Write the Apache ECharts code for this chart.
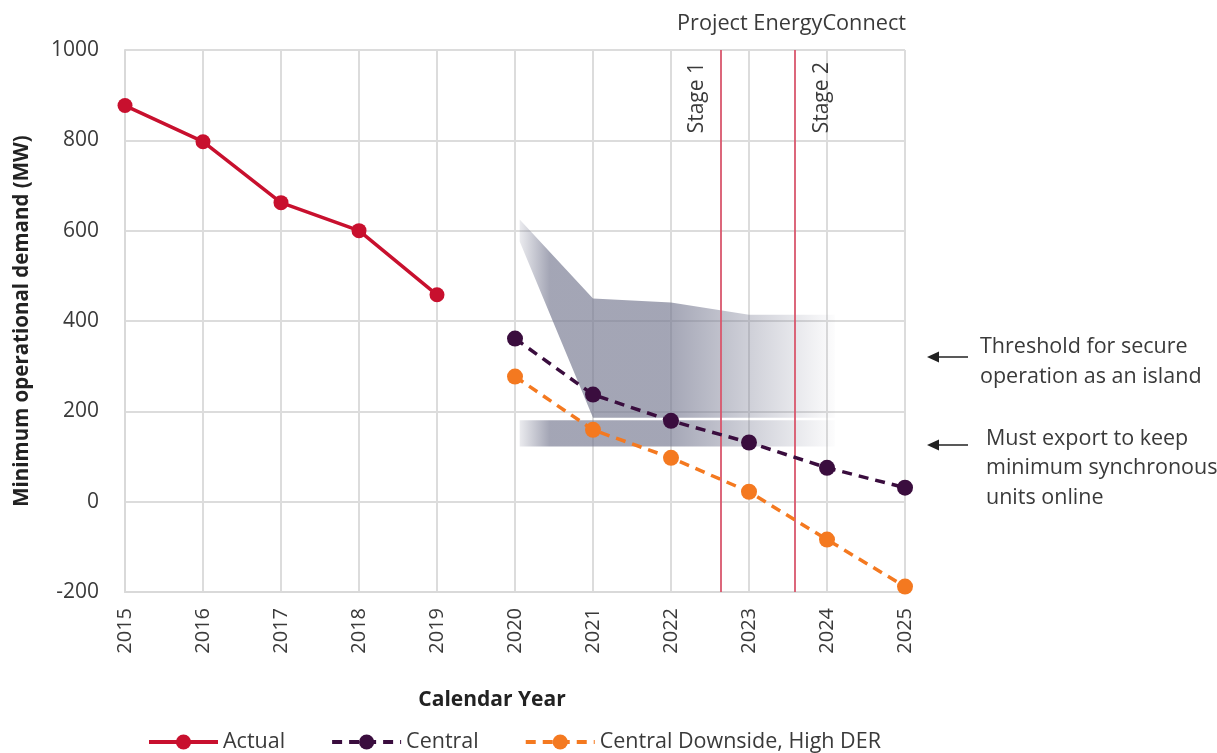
<!DOCTYPE html>
<html><head><meta charset="utf-8">
<script src="https://cdn.jsdelivr.net/npm/echarts@6/dist/echarts.min.js"></script>
<style>html,body{margin:0;padding:0;background:#fff}#c{width:1217px;height:753px}</style>
</head><body><div id="c"></div>
<script>
const years = [2015,2016,2017,2018,2019,2020,2021,2022,2023,2024,2025];
const actual   = [877,797,662,600,458,null,null,null,null,null,null];
const central  = [null,null,null,null,null,361,237,179,131,75,31];
const downside = [null,null,null,null,null,277,159,97,22,-84,-188];
const yTicks = [-200,0,200,400,600,800,1000];
// shaded "secure island operation" region
const islandX = [2020.06,2021,2022,2023,2024.1,2024.1,2021,2020.06];
const islandY = [625,450,441,414,414,186,186,576];
// "must export" band
const bandX = [2020.06,2024.1];
const bandY = [122,180];
const stageX = [2022.64,2023.59];
const stageLabels = ['Stage 1','Stage 2'];
const FONT = 'Open Sans';
const TXT = '#3a3a3a';

function pairs(vals){ return years.map((y,i)=>[y,vals[i]]).filter(p=>p[1]!==null); }
function grad(){
  return new echarts.graphic.LinearGradient(0,0,1,0,[
    {offset:0,color:'rgba(116,119,143,0.15)'},
    {offset:0.095,color:'rgba(116,119,143,0.66)'},
    {offset:0.47,color:'rgba(116,119,143,0.66)'},
    {offset:1,color:'rgba(116,119,143,0.02)'}]);
}
const stagePos = ['insideEndTop','insideEndBottom'];
const stageDist = [[12,13.5],[12,16.5]];
const chart = echarts.init(document.getElementById('c'));
const option = {
  animation:false,
  backgroundColor:'#fff',
  grid:{left:125,right:312,top:50,bottom:161},
  xAxis:{type:'value',min:2015,max:2025,interval:1,
    axisLine:{show:true,onZero:false,lineStyle:{color:'#d9d9d9',width:2}},
    axisTick:{show:false},
    splitLine:{show:true,lineStyle:{color:'#dcdcdc',width:2}},
    axisLabel:{rotate:90,margin:16,fontSize:20,color:TXT,fontFamily:FONT,formatter:v=>String(v)}},
  yAxis:{type:'value',min:yTicks[0],max:yTicks[yTicks.length-1],interval:200,
    name:'Minimum operational demand (MW)',nameLocation:'middle',nameGap:92,
    nameTextStyle:{fontSize:20.5,fontWeight:'bold',color:'#222',fontFamily:FONT},
    axisLine:{show:true,lineStyle:{color:'#d9d9d9',width:2}},
    axisTick:{show:false},
    splitLine:{show:true,lineStyle:{color:'#dcdcdc',width:2}},
    axisLabel:{margin:26,fontSize:21,color:TXT,fontFamily:FONT,formatter:v=>String(v)}},
  legend:{left:142,top:726,itemWidth:69,itemHeight:19,itemGap:45,
    lineStyle:{width:4},
    textStyle:{fontSize:21.5,color:TXT,fontFamily:FONT},
    data:['Actual','Central','Central Downside, High DER']},
  series:[
    {type:'custom',name:'island',silent:true,z:1,data:[[2020,0]],
     renderItem:(p,api)=>({type:'polygon',shape:{points:islandX.map((x,i)=>api.coord([x,islandY[i]]))},style:{fill:grad()}})},
    {type:'custom',name:'band',silent:true,z:1,data:[[2020,0]],
     renderItem:(p,api)=>({type:'polygon',shape:{points:[
       api.coord([bandX[0],bandY[1]]),api.coord([bandX[1],bandY[1]]),
       api.coord([bandX[1],bandY[0]]),api.coord([bandX[0],bandY[0]])]},style:{fill:grad()}})},
    {type:'line',name:'Actual',data:pairs(actual),z:5,symbol:'circle',symbolSize:15,
     lineStyle:{color:'#c8102e',width:3.5},itemStyle:{color:'#c8102e'},
     markLine:{silent:true,symbol:'none',lineStyle:{color:'#d9566c',width:1.8,type:'solid'},
       data:stageX.map((x,i)=>({xAxis:x,label:{show:true,formatter:stageLabels[i],position:stagePos[i],
         distance:stageDist[i],fontSize:21,fontFamily:FONT,color:TXT}}))}},
    {type:'line',name:'Central',data:pairs(central),z:5,symbol:'circle',symbolSize:16,
     lineStyle:{color:'#3a0d3e',width:3.5,type:[10,7]},itemStyle:{color:'#3a0d3e'}},
    {type:'line',name:'Central Downside, High DER',data:pairs(downside),z:5,symbol:'circle',symbolSize:16,
     lineStyle:{color:'#f47920',width:3.5,type:[10,7]},itemStyle:{color:'#f47920'}}
  ],
  graphic:[
    {type:'text',x:906,y:24,style:{text:'Project EnergyConnect',font:'21.7px "Open Sans"',fill:TXT,align:'right',verticalAlign:'middle'}},
    {type:'text',x:492,y:700,style:{text:'Calendar Year',font:'bold 21px "Open Sans"',fill:'#222',align:'center',verticalAlign:'middle'}},
    {type:'line',shape:{x1:968,y1:357,x2:936,y2:357},style:{stroke:'#222',lineWidth:1.5}},
    {type:'polygon',shape:{points:[[927,357],[939,351.5],[939,362.5]]},style:{fill:'#222'}},
    {type:'line',shape:{x1:968,y1:445,x2:936,y2:445},style:{stroke:'#222',lineWidth:1.5}},
    {type:'polygon',shape:{points:[[927,445],[939,439.5],[939,450.5]]},style:{fill:'#222'}},
    {type:'text',x:980,y:332,style:{text:'Threshold for secure\noperation as an island',font:'21.5px "Open Sans"',lineHeight:30,fill:TXT,align:'left',verticalAlign:'top'}},
    {type:'text',x:986,y:424,style:{text:'Must export to keep\nminimum synchronous\nunits online',font:'21.5px "Open Sans"',lineHeight:29.5,fill:TXT,align:'left',verticalAlign:'top'}}
  ]
};
chart.setOption(option);
</script></body></html>
